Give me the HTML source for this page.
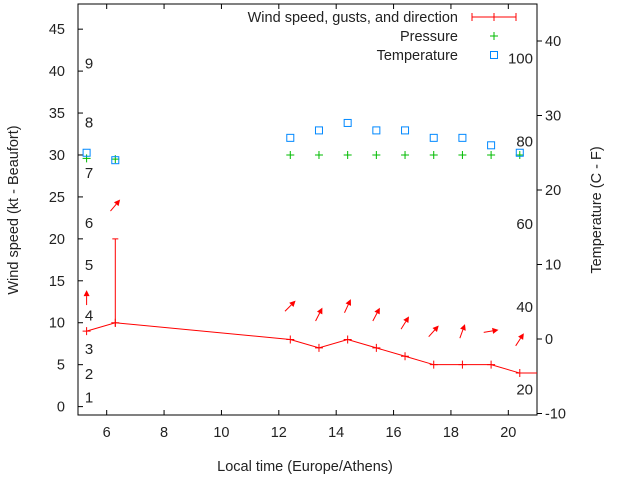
<!DOCTYPE html>
<html><head><meta charset="utf-8"><style>
html,body{margin:0;padding:0;background:#fff}
svg text{font-family:"Liberation Sans",sans-serif;font-size:14.5px;fill:#222}
svg text.bf{font-size:15px}
</style></head><body>
<svg id="c" width="640" height="480" xmlns="http://www.w3.org/2000/svg">
<rect x="0" y="0" width="640" height="480" fill="#fff"/>
</svg>
<script>
const hours = [5.3, 6.3, 12.4, 13.4, 14.4, 15.4, 16.4, 17.4, 18.4, 19.4, 20.4, 21.3];
const windKt = [9, 10, 8, 7, 8, 7, 6, 5, 5, 5, 4, 4];
const gustHour = [6.3];
const gustLow = [9.5];
const gustHigh = [20];
const arrowHours = [5.3, 6.3, 12.4, 13.4, 14.4, 15.4, 16.4, 17.4, 18.4, 19.4, 20.4];
const arrowLevel = [13, 24, 12, 11, 12, 11, 10, 9, 9, 9, 8];
const arrowDir = [0, 40, 45, 27, 25, 28, 32, 42, 20, 80, 33];
const pressHours = [5.3, 6.3, 12.4, 13.4, 14.4, 15.4, 16.4, 17.4, 18.4, 19.4, 20.4];
const pressVal = [29.6, 29.5, 30, 30, 30, 30, 30, 30, 30, 30, 30];
const tempHours = [5.3, 6.3, 12.4, 13.4, 14.4, 15.4, 16.4, 17.4, 18.4, 19.4, 20.4];
const tempC = [25, 24, 27, 28, 29, 28, 28, 27, 27, 26, 25];
const xTicks = [6, 8, 10, 12, 14, 16, 18, 20];
const yTicks = [0, 5, 10, 15, 20, 25, 30, 35, 40, 45];
const tTicks = [-10, 0, 10, 20, 30, 40];
const beaufort = [1, 2, 3, 4, 5, 6, 7, 8, 9];
const beaufortKt = [1.2, 4, 7, 11, 17, 22, 28, 34, 41];
const fTicks = [20, 40, 60, 80, 100];

const L=78,R=537,T=4,B=415;
const X=h=>L+(h-5)/16*(R-L);
const Y=v=>B-(v+1)/49*(B-T);
const YT=c=>339-c*7.45;
const svg=document.getElementById('c');
const NS='http://www.w3.org/2000/svg';
function mk(tag,attrs,parent){const e=document.createElementNS(NS,tag);for(const k in attrs)e.setAttribute(k,attrs[k]);(parent||svg).appendChild(e);return e;}
function txt(x,y,s,anchor,extra){const t=mk('text',Object.assign({x:x,y:y,'text-anchor':anchor||'start'},extra||{}));t.textContent=s;return t;}

let fr=mk('rect',{x:L,y:T,width:R-L,height:B-T,fill:'none',stroke:'#000','stroke-width':1});



xTicks.forEach(h=>{const x=X(h);
 mk('line',{x1:x,y1:B,x2:x,y2:B-5,stroke:'#000'});
 mk('line',{x1:x,y1:T,x2:x,y2:T+5,stroke:'#000'});
 const t=txt(x,B+22,String(h),'middle');
 
 
});
yTicks.forEach(v=>{const y=Y(v);
 mk('line',{x1:L,y1:y,x2:L+5,y2:y,stroke:'#000'});
 const t=txt(65,y+5,String(v),'end');
 
 
});
tTicks.forEach(c=>{const y=YT(c);
 mk('line',{x1:R,y1:y,x2:R+5,y2:y,stroke:'#000'});
 const t=txt(545,y+5,String(c),'start');
 
 
});
beaufort.forEach((b,i)=>{
 const t=txt(89,Y(beaufortKt[i])+6,String(b),'middle',{'class':'bf'});
 
 
});
fTicks.forEach(f=>{
 const t=txt(533,YT((f-32)*5/9)+6,String(f),'end',{'class':'bf'});
 
 
});

const defs=mk('defs',{});
const cp=mk('clipPath',{id:'pc'},defs);
mk('rect',{x:L,y:T,width:R-L,height:B-T},cp);
const g=mk('g',{'clip-path':'url(#pc)'});

let pts=hours.map((h,i)=>X(h)+','+Y(windKt[i])).join(' ');
let wl=mk('polyline',{points:pts,fill:'none',stroke:'#f00','stroke-width':1},g);


hours.forEach((h,i)=>{const x=X(h),y=Y(windKt[i]);
 const p=mk('path',{d:`M${x-4},${y}H${x+4}M${x},${y-4}V${y+4}`,stroke:'#f00'},g);
 
 
});
gustHour.forEach((h,i)=>{const x=X(h);
 const p=mk('path',{d:`M${x},${Y(gustLow[i])}V${Y(gustHigh[i])}M${x-3},${Y(gustHigh[i])}H${x+3}`,stroke:'#f00'},g);
 
 
});
arrowHours.forEach((h,i)=>{
 const cx=X(h),cy=Y(arrowLevel[i]),a=arrowDir[i]*Math.PI/180,len=15;
 const dx=Math.sin(a)*len/2,dy=-Math.cos(a)*len/2;
 const x1=cx-dx,y1=cy-dy,x2=cx+dx,y2=cy+dy;
 const ux=Math.sin(a),uy=-Math.cos(a),px=-uy,py=ux;
 const hx=x2-ux*6,hy=y2-uy*6;
 const ar=mk('g',{},g);
 
 
 mk('line',{x1:x1,y1:y1,x2:hx,y2:hy,stroke:'#f00','stroke-width':1},ar);
 mk('polygon',{points:`${x2},${y2} ${hx+px*3},${hy+py*3} ${hx-px*3},${hy-py*3}`,fill:'#f00'},ar);
});
pressHours.forEach((h,i)=>{const x=X(h),y=Y(pressVal[i]);
 const p=mk('path',{d:`M${x-4},${y}H${x+4}M${x},${y-4}V${y+4}`,stroke:'#0b0'},g);
 
 
});
tempHours.forEach((h,i)=>{const x=X(h),y=YT(tempC[i]);
 const p=mk('rect',{x:x-3.5,y:y-3.5,width:7,height:7,fill:'none',stroke:'#08f'},g);
 
 
});

const lg=mk('g',{});


txt(458,22,'Wind speed, gusts, and direction','end');
txt(458,41,'Pressure','end');
txt(458,60,'Temperature','end');
mk('path',{d:'M472,17H516M472,13V21M516,13V21M494,13V21',stroke:'#f00'},lg);
mk('path',{d:'M490,36H498M494,32V40',stroke:'#0b0'},lg);
mk('rect',{x:490.5,y:51.5,width:7,height:7,fill:'none',stroke:'#08f'},lg);

let xl=txt(305,471,'Local time (Europe/Athens)','middle');


let yl=txt(0,0,'Wind speed (kt - Beaufort)','middle',{transform:'translate(18,210) rotate(-90)'});


let tl=txt(0,0,'Temperature (C - F)','middle',{transform:'translate(601,210) rotate(-90)'});


</script>
</body></html>
